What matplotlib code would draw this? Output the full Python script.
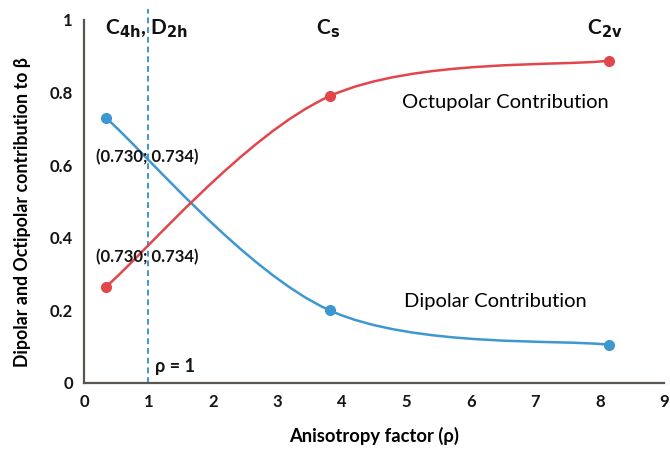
import matplotlib
matplotlib.use("Agg")
import matplotlib.pyplot as plt
import numpy as np
from matplotlib.path import Path
from matplotlib.patches import PathPatch

plt.rcParams['font.family'] = ['Lato', 'DejaVu Sans']

# Anisotropy factor of the three symmetries and their contributions to beta
rho = [0.34, 3.81, 8.15]
dipolar = [0.73, 0.20, 0.105]
octupolar = [0.265, 0.79, 0.888]
symmetry_labels = ["C$_{\\mathbf{4h}}$, D$_{\\mathbf{2h}}$", "C$_{\\mathbf{s}}$", "C$_{\\mathbf{2v}}$"]
xticks = list(range(0, 10))
yticks = [0, 0.2, 0.4, 0.6, 0.8, 1]
ytick_labels = ["0", "0.2", "0.4", "0.6", "0.8", "1"]

BLUE = "#3f97d0"
RED = "#e2464b"
INK = "#141414"


def smooth_path(xs, ys):
    """Cubic Bezier path through the points (Catmull-Rom style tangents)."""
    pts = np.column_stack([xs, ys]).astype(float)
    n = len(pts)
    verts = [pts[0]]
    codes = [Path.MOVETO]
    for i in range(n - 1):
        p_prev = pts[i - 1] if i > 0 else pts[i]
        p0, p1 = pts[i], pts[i + 1]
        p_next = pts[i + 2] if i + 2 < n else pts[i + 1]
        c1 = p0 + (p1 - p_prev) / 6.0
        c2 = p1 - (p_next - p0) / 6.0
        verts += [c1, c2, p1]
        codes += [Path.CURVE4] * 3
    return Path(verts, codes)


fig = plt.figure(figsize=(6.7, 4.5), dpi=100)
ax = fig.add_axes([0.1254, 0.149, 0.866, 0.8067])
ax.set_xlim(0, 9)
ax.set_ylim(0, 1)

for ys, col in [(dipolar, BLUE), (octupolar, RED)]:
    ax.add_patch(PathPatch(smooth_path(rho, ys), facecolor="none", edgecolor=col, lw=1.8, zorder=3))
    ax.plot(rho, ys, linestyle="none", marker="o", markersize=7, color=col, zorder=4)

# rho = 1 reference line
ax.axvline(1, ymin=0, ymax=1.03, color=BLUE, lw=1.4, ls=(0, (3, 2)), clip_on=False, zorder=2)
ax.text(1.1, 0.045, "ρ = 1", fontsize=13, fontweight="bold", color=INK, va="center")

# symmetry labels along the top
sym_x = [0.33, 3.6, 7.8]
for x, lab in zip(sym_x, symmetry_labels):
    ax.text(x, 0.975, lab, fontsize=15, fontweight="bold", color="#111111", va="center", ha="left")

ax.text(0.18, 0.622, "(0.730; 0.734)", fontsize=12, fontweight="bold", color=INK, va="center")
ax.text(0.18, 0.347, "(0.730; 0.734)", fontsize=12, fontweight="bold", color=INK, va="center")
ax.text(4.93, 0.772, "Octupolar Contribution", fontsize=14.5, color="#000000", va="center")
ax.text(4.96, 0.224, "Dipolar Contribution", fontsize=14.5, color="#000000", va="center")

ax.set_xticks(xticks)
ax.set_xticklabels([str(t) for t in xticks])
ax.set_yticks(yticks)
ax.set_yticklabels(ytick_labels)
ax.tick_params(length=0, labelsize=12, pad=8, colors=INK)
for lab in ax.get_xticklabels() + ax.get_yticklabels():
    lab.set_fontweight("bold")

for side in ["top", "right"]:
    ax.spines[side].set_visible(False)
for side in ["left", "bottom"]:
    ax.spines[side].set_color("#5a5550")
    ax.spines[side].set_linewidth(1.6)

ax.set_xlabel("Anisotropy factor (ρ)", fontsize=13.2, fontweight="bold", labelpad=12)
ax.set_ylabel("Dipolar and Octipolar contribution to β", fontsize=12.8, fontweight="bold")
ax.yaxis.set_label_coords(-0.092, 0.47)

fig.savefig("out.png", dpi=100)
